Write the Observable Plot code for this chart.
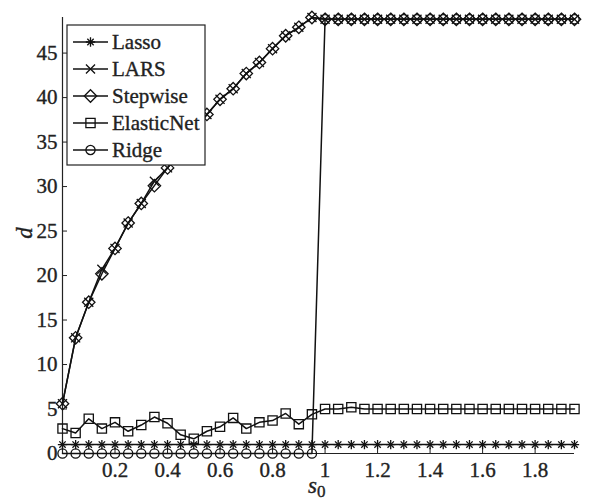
<!DOCTYPE html>
<html>
<head>
<meta charset="utf-8">
<script src="https://cdn.jsdelivr.net/npm/d3@7"></script>
<script src="https://cdn.jsdelivr.net/npm/@observablehq/plot@0.6"></script>
<style>
  html, body { margin: 0; padding: 0; background: white; }
  #chart { position: relative; width: 589px; height: 501px; }
  #chart svg, #chart svg text { font-family: "Liberation Serif", "DejaVu Serif", serif !important; }
  #chart svg text { stroke: #222; stroke-width: 0.35px; }
</style>
</head>
<body>
<div id="chart"></div>
<script>
// ---- data ----
const s0 = [0,0.05,0.1,0.15,0.2,0.25,0.3,0.35,0.4,0.45,0.5,0.55,0.6,0.65,0.7,0.75,0.8,0.85,0.9,0.95,
            1,1.05,1.1,1.15,1.2,1.25,1.3,1.35,1.4,1.45,1.5,1.55,1.6,1.65,1.7,1.75,1.8,1.85,1.9,1.95];

const lasso = [1,1,1,1,1,1,1,1,1,1,1,1,1,1,1,1,1,1,1,1,
               1,1,1,1,1,1,1,1,1,1,1,1,1,1,1,1,1,1,1,1];

const lars = [5.6,13,17,20.7,23.05,25.9,28.1,30.6,32.1,34.2,36.2,38.1,39.8,41,42.7,43.95,45.5,46.95,47.9,49,
              48.8,48.8,48.8,48.8,48.8,48.8,48.8,48.8,48.8,48.8,48.8,48.8,48.8,48.8,48.8,48.8,48.8,48.8,48.8,48.8];

const stepwise = [5.6,13,17,20.2,23.05,25.9,28.1,30.1,32.1,34.2,36.2,38.1,39.8,41,42.7,43.95,45.5,46.95,47.9,49,
                  48.8,48.8,48.8,48.8,48.8,48.8,48.8,48.8,48.8,48.8,48.8,48.8,48.8,48.8,48.8,48.8,48.8,48.8,48.8,48.8];

const elasticNet = [2.8,2.3,3.9,2.8,3.5,2.5,3.2,4.1,3.4,2.1,1.65,2.5,3.0,4.0,2.8,3.5,3.7,4.5,3.3,4.4,
                    5.0,5.0,5.2,5.0,5.0,5.0,5.0,5.0,5.0,5.0,5.0,5.0,5.0,5.0,5.0,5.0,5.0,5.0,5.0,5.0];

const ridge = [0,0,0,0,0,0,0,0,0,0,0,0,0,0,0,0,0,0,0,0,
               48.8,48.8,48.8,48.8,48.8,48.8,48.8,48.8,48.8,48.8,48.8,48.8,48.8,48.8,48.8,48.8,48.8,48.8,48.8,48.8];

const seriesNames = ["Lasso", "LARS", "Stepwise", "ElasticNet", "Ridge"];
const xTicks = [0.2,0.4,0.6,0.8,1,1.2,1.4,1.6,1.8];
const yTicks = [0,5,10,15,20,25,30,35,40,45];
const xDomain = [0, 1.95];
const yDomain = [0, 49];

// ---- build table ----
const seriesValues = {Lasso: lasso, LARS: lars, Stepwise: stepwise, ElasticNet: elasticNet, Ridge: ridge};
const table = [];
for (const name of seriesNames) {
  seriesValues[name].forEach((v, i) => table.push({series: name, s0: s0[i], d: v}));
}
const of = name => table.filter(r => r.series === name);

const INK = "#111";
const FONT = "Liberation Serif, DejaVu Serif, serif";
const LINE_W = 1.5;
const MARK_W = 1.3;
const symbolSpec = {
  Lasso: [{symbol: "plus", r: 3.1}, {symbol: "times", r: 3.0}],
  LARS: [{symbol: "times", r: 4.2}],
  Stepwise: [{symbol: "diamond2", r: 5.6}],
  ElasticNet: [{symbol: "square", r: 5.2}],
  Ridge: [{symbol: "circle", r: 4.6}]
};

const marks = [
  Plot.ruleX([xDomain[0]], {stroke: "#222", strokeWidth: 1.2}),
  Plot.ruleY([yDomain[0]], {stroke: "#222", strokeWidth: 1.2}),
  Plot.axisX({ticks: xTicks, tickFormat: d => String(d), tickSize: -5, tickPadding: 14, label: null, stroke: "#222"}),
  Plot.axisY({ticks: yTicks, tickFormat: d => String(d), tickSize: -5, tickPadding: 10, label: null, stroke: "#222"})
];
for (const name of seriesNames) {
  marks.push(Plot.line(of(name), {x: "s0", y: "d", stroke: INK, strokeWidth: LINE_W}));
  for (const sp of symbolSpec[name]) {
    marks.push(Plot.dot(of(name), {x: "s0", y: "d", symbol: sp.symbol, r: sp.r, stroke: INK, fill: "none", strokeWidth: MARK_W}));
  }
}

const chart = Plot.plot({
  width: 589,
  height: 501,
  marginLeft: 62,
  marginRight: 15,
  marginTop: 17,
  marginBottom: 48,
  style: {fontFamily: FONT, fontSize: "21px", color: "#222", background: "white"},
  x: {domain: xDomain},
  y: {domain: yDomain},
  marks
});
document.getElementById("chart").appendChild(chart);

// ---- legend and axis titles ----
const svg = d3.select(chart).attr("font-family", FONT);
const lg = svg.append("g")
  .attr("font-family", FONT)
  .attr("font-size", 21)
  .attr("text-anchor", "start")
  .attr("fill", "#222");
lg.append("rect").attr("x", 67).attr("y", 25).attr("width", 138).attr("height", 140)
  .attr("fill", "white").attr("stroke", "#222").attr("stroke-width", 1.2);
const symMap = {plus: d3.symbolPlus, times: d3.symbolTimes, diamond2: d3.symbolDiamond2, square: d3.symbolSquare, circle: d3.symbolCircle};
seriesNames.forEach((name, i) => {
  const cy = 42 + i * 27;
  lg.append("line").attr("x1", 73).attr("x2", 108).attr("y1", cy).attr("y2", cy)
    .attr("stroke", INK).attr("stroke-width", LINE_W);
  for (const sp of symbolSpec[name]) {
    lg.append("path")
      .attr("d", d3.symbol(symMap[sp.symbol], Math.PI * sp.r * sp.r)())
      .attr("transform", `translate(90.5,${cy})`)
      .attr("fill", "none").attr("stroke", INK).attr("stroke-width", MARK_W);
  }
  lg.append("text").attr("x", 112).attr("y", cy).attr("dy", "0.32em").attr("text-anchor", "start").text(name);
});

svg.append("text")
  .attr("transform", "translate(24,233) rotate(-90)")
  .attr("text-anchor", "middle").attr("dy", "0.35em")
  .attr("font-family", FONT).attr("font-style", "italic")
  .attr("font-size", 23).attr("fill", "#222")
  .text("d");

const xl = svg.append("text")
  .attr("x", 308).attr("y", 493).attr("text-anchor", "start")
  .attr("font-family", FONT).attr("font-size", 23).attr("fill", "#222");
xl.append("tspan").attr("font-style", "italic").text("s");
xl.append("tspan").attr("font-size", 17).attr("dy", 4).text("0");
</script>
</body>
</html>
